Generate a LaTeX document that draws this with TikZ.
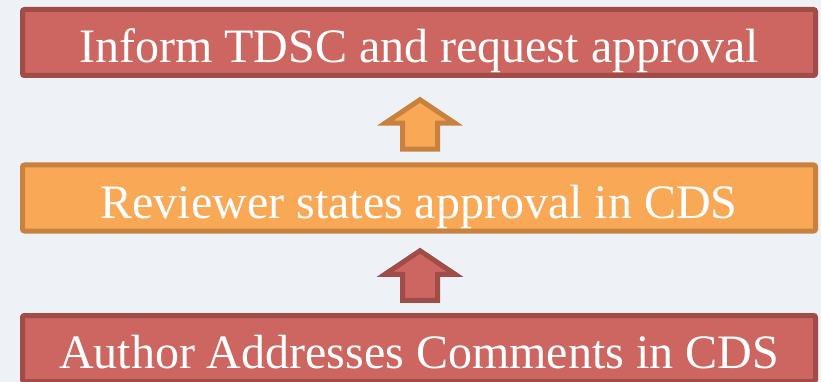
\documentclass[tikz,border=0pt]{standalone}
\usepackage{fontspec}
\setmainfont{Liberation Serif}
\usetikzlibrary{calc}
\definecolor{bgc}{RGB}{238,241,246}
\definecolor{redfill}{RGB}{205,102,96}
\definecolor{redline}{RGB}{160,76,72}
\definecolor{orfill}{RGB}{249,168,86}
\definecolor{orline}{RGB}{200,130,64}
\tikzset{
  stepbox/.style={draw, line width=5pt, rounded corners=2pt, minimum width=793pt,
    minimum height=66pt, inner sep=0pt, text=white, text height=40pt, text depth=0pt,
    font=\fontsize{48}{56}\selectfont},
  redbox/.style={stepbox, fill=redfill, draw=redline},
  orbox/.style={stepbox, fill=orfill, draw=orline},
  blockarrow/.pic={
    \path[pic actions, line width=5pt, line join=miter]
      (0,-23.5) -- (35,0) -- (17.5,0) -- (17.5,26) -- (-17.5,26) -- (-17.5,0) -- (-35,0) -- cycle;
  }
}
\begin{document}
\begin{tikzpicture}[x=1pt, y=-1pt]
\fill[bgc] (0,0) rectangle (821,382);
\useasboundingbox (0,0) rectangle (821,382);
\node[redbox] (top) at (419,42.5) {Inform TDSC and request approval};
\node[orbox] (mid) at (419,198) {Reviewer states approval in CDS};
\node[redbox, text height=39pt] (bot) at (419,348.5) {Author Addresses Comments in CDS};
\coordinate (a1) at ($(top.south)!.5!(mid.north)+(1,3)$);
\coordinate (a2) at ($(mid.south)!.5!(bot.north)+(1,1)$);
\pic[fill=orfill, draw=orline] at (a1) {blockarrow};
\pic[fill=redfill, draw=redline] at (a2) {blockarrow};
\end{tikzpicture}
\end{document}
